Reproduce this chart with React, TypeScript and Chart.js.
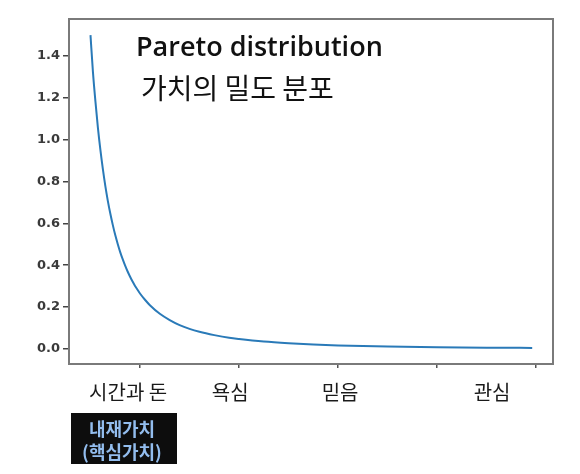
import React, { useEffect, useRef } from "react";
import { Chart, registerables } from "chart.js";

Chart.register(...registerables);

// Pareto pdf (b = 1.5)
const xValues = [1.0, 1.05, 1.1, 1.15, 1.2, 1.25, 1.3, 1.35, 1.4, 1.45, 1.5, 1.55, 1.6, 1.65, 1.7, 1.75, 1.8, 1.85, 1.9, 1.95, 2.0, 2.1, 2.2, 2.4, 2.6, 2.8, 3.0, 3.2, 3.5, 3.8, 4.0, 4.5, 5.0, 5.5, 6.0, 7.0, 8.0, 9.0, 9.92];
const densityValues = [1.5, 1.322, 1.182, 1.057, 0.951, 0.859, 0.778, 0.708, 0.647, 0.593, 0.544, 0.502, 0.463, 0.429, 0.398, 0.37, 0.345, 0.322, 0.301, 0.283, 0.265, 0.235, 0.209, 0.168, 0.138, 0.114, 0.096, 0.082, 0.066, 0.053, 0.047, 0.035, 0.027, 0.021, 0.017, 0.0116, 0.0083, 0.0062, 0.0049];
const yTickValues = [0, 0.2, 0.4, 0.6, 0.8, 1.0, 1.2, 1.4];
const xTickValues = [2, 4, 6, 8, 10];
const categoryLabels = ["시간과 돈", "욕심", "믿음", "관심"];
const categoryPositions = [1.76, 3.82, 6.04, 9.11];
const titleText = "Pareto distribution";
const subtitleText = "가치의 밀도 분포";
const boxLines = ["내재가치", "(핵심가치)"];

export default function App() {
  const ref = useRef<HTMLCanvasElement | null>(null);
  useEffect(() => {
    const canvas = ref.current;
    if (!canvas) return;
    const overlay = {
      id: "overlay",
      afterDraw(chart: any) {
        const { ctx, chartArea } = chart;
        const xs = chart.scales.x;
        ctx.save();
        // frame
        ctx.strokeStyle = "#7a7a7a";
        ctx.lineWidth = 2;
        ctx.strokeRect(chartArea.left, chartArea.top, chartArea.right - chartArea.left, chartArea.bottom - chartArea.top);
        // titles
        ctx.fillStyle = "#111";
        ctx.textBaseline = "alphabetic";
        ctx.textAlign = "left";
        ctx.font = "600 27px 'Open Sans'";
        ctx.fillText(titleText, 136, 56);
        ctx.font = "28px 'Noto Sans CJK KR'";
        ctx.textBaseline = "middle";
        ctx.fillText(subtitleText, 141, 88);
        // category labels
        ctx.font = "20px 'Noto Sans CJK KR'";
        ctx.textAlign = "center";
        ctx.fillStyle = "#1a1a1a";
        categoryLabels.forEach((lab, i) => {
          ctx.fillText(lab, xs.getPixelForValue(categoryPositions[i]), 392);
        });
        // black box
        ctx.fillStyle = "#0d0d0d";
        ctx.fillRect(71, 413, 106, 51);
        ctx.fillStyle = "#93bdee";
        ctx.font = "bold 18px 'Noto Sans CJK KR'";
        ctx.fillText(boxLines[0], 122, 429);
        ctx.fillText(boxLines[1], 122, 452);
        ctx.restore();
      },
    };
    const chart = new Chart(canvas, {
      type: "line",
      data: {
        datasets: [
          {
            data: xValues.map((x, i) => ({ x, y: densityValues[i] })),
            borderColor: "#2a7ab8",
            borderWidth: 2,
            pointRadius: 0,
            cubicInterpolationMode: "monotone",
            fill: false,
          },
        ],
      },
      options: {
        animation: false,
        responsive: false,
        events: [],
        layout: { padding: { left: 0, top: 19, right: 27, bottom: 0 } },
        plugins: { legend: { display: false }, tooltip: { enabled: false }, title: { display: false } },
        scales: {
          x: {
            type: "linear",
            min: 0.566,
            max: 10.34,
            afterBuildTicks: (s: any) => {
              s.ticks = xTickValues.map((v) => ({ value: v }));
            },
            afterFit: (s: any) => {
              s.height = 110;
            },
            ticks: { display: true, callback: () => "", font: { size: 1 } },
            grid: { drawOnChartArea: false, drawTicks: true, tickLength: 4, color: "#555", lineWidth: 1.5 },
            border: { display: false },
          },
          y: {
            type: "linear",
            min: -0.072,
            max: 1.577,
            afterBuildTicks: (s: any) => {
              s.ticks = yTickValues.map((v) => ({ value: v }));
            },
            afterFit: (s: any) => {
              s.width = 69;
            },
            ticks: {
              callback: (v: any) => Number(v).toFixed(1),
              font: { family: "'DejaVu Sans'", size: 13, weight: "bold" },
              color: "#3a3a3a",
              padding: 3,
            },
            grid: { drawOnChartArea: false, drawTicks: true, tickLength: 6, color: "#444", lineWidth: 1.5 },
            border: { display: false },
          },
        },
      },
      plugins: [overlay],
    } as any);
    return () => chart.destroy();
  }, []);
  return (
    <div style={{ position: "fixed", left: 0, top: 0, width: 580, height: 474, background: "#fff" }}>
      <canvas ref={ref} width={580} height={474} />
    </div>
  );
}
